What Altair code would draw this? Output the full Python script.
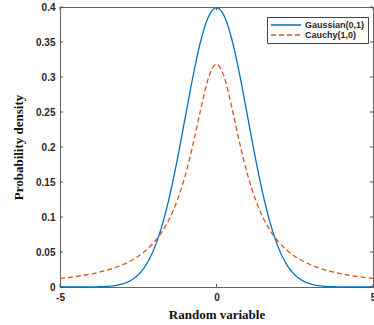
import altair as alt
import pandas as pd

x_vals = [-5.0, -4.75, -4.5, -4.25, -4.0, -3.75, -3.5, -3.25, -3.0, -2.75, -2.5, -2.25, -2.0,
          -1.75, -1.5, -1.25, -1.0, -0.75, -0.5, -0.25, 0.0, 0.25, 0.5, 0.75, 1.0, 1.25, 1.5,
          1.75, 2.0, 2.25, 2.5, 2.75, 3.0, 3.25, 3.5, 3.75, 4.0, 4.25, 4.5, 4.75, 5.0]

gaussian = [0.0, 0.0, 0.0, 0.0, 0.0001, 0.0004, 0.0009, 0.0020, 0.0044, 0.0091, 0.0175, 0.0317,
            0.0540, 0.0863, 0.1295, 0.1826, 0.2420, 0.3011, 0.3521, 0.3867, 0.3989, 0.3867,
            0.3521, 0.3011, 0.2420, 0.1826, 0.1295, 0.0863, 0.0540, 0.0317, 0.0175, 0.0091,
            0.0044, 0.0020, 0.0009, 0.0004, 0.0001, 0.0, 0.0, 0.0, 0.0]

cauchy = [0.0122, 0.0135, 0.0150, 0.0167, 0.0187, 0.0211, 0.0240, 0.0275, 0.0318, 0.0372,
          0.0439, 0.0525, 0.0637, 0.0784, 0.0979, 0.1242, 0.1592, 0.2037, 0.2546, 0.2996,
          0.3183, 0.2996, 0.2546, 0.2037, 0.1592, 0.1242, 0.0979, 0.0784, 0.0637, 0.0525,
          0.0439, 0.0372, 0.0318, 0.0275, 0.0240, 0.0211, 0.0187, 0.0167, 0.0150, 0.0135,
          0.0122]

series_names = ["Gaussian(0,1)", "Cauchy(1,0)"]
x_ticks = [-5, 0, 5]
y_ticks = [0, 0.05, 0.1, 0.15, 0.2, 0.25, 0.3, 0.35, 0.4]

rows = []
for xv, g in zip(x_vals, gaussian):
    rows.append({"x": xv, "y": g, "series": series_names[0]})
for xv, c in zip(x_vals, cauchy):
    rows.append({"x": xv, "y": c, "series": series_names[1]})
df = pd.DataFrame(rows)

W, H = 313, 280
xs = alt.Scale(domain=[-5, 5], nice=False)
ys = alt.Scale(domain=[0, 0.4], nice=False)

x_axis = alt.Axis(values=x_ticks, ticks=False, labelPadding=5, grid=False,
                  titlePadding=6, labelFlush=False, labelOverlap=False,
                  labelExpr="toString(datum.value)", title="Random variable")
y_axis = alt.Axis(values=y_ticks, ticks=False, labelPadding=5, grid=False,
                  titlePadding=10, labelFlush=False, labelOverlap=False,
                  labelExpr="toString(datum.value)", title="Probability density")

lines = alt.Chart(df).mark_line(strokeWidth=1.3, interpolate="monotone").encode(
    x=alt.X("x:Q", scale=xs, axis=x_axis, title="Random variable"),
    y=alt.Y("y:Q", scale=ys, axis=y_axis, title="Probability density"),
    color=alt.Color("series:N", scale=alt.Scale(domain=series_names, range=["#0072BD", "#D95319"]),
                    title=None,
                    legend=alt.Legend(orient="none", legendX=207, legendY=10,
                                      strokeColor="#444", fillColor="white", padding=3,
                                      symbolType="stroke", symbolSize=900, symbolStrokeWidth=1.3,
                                      clipHeight=10, labelFont="Liberation Sans",
                                      labelFontWeight="bold", labelFontSize=9,
                                      labelColor="#262626", labelOffset=3, rowPadding=0)),
    strokeDash=alt.StrokeDash("series:N", scale=alt.Scale(domain=series_names, range=[[1, 0], [5, 3]]),
                              title=None, legend=None),
)

ytick_df = pd.DataFrame({"v": y_ticks})
xtick_df = pd.DataFrame({"v": x_ticks})

yticks_left = alt.Chart(ytick_df).mark_rule(color="#555", strokeWidth=1).encode(
    y=alt.Y("v:Q", scale=ys, axis=y_axis, title="Probability density"),
    x=alt.value(0), x2=alt.value(3))
yticks_right = alt.Chart(ytick_df).mark_rule(color="#555", strokeWidth=1).encode(
    y=alt.Y("v:Q", scale=ys, axis=y_axis, title="Probability density"),
    x=alt.value(W - 3), x2=alt.value(W))
xticks_bottom = alt.Chart(xtick_df).mark_rule(color="#555", strokeWidth=1).encode(
    x=alt.X("v:Q", scale=xs, axis=x_axis, title="Random variable"),
    y=alt.value(H), y2=alt.value(H - 3))
xticks_top = alt.Chart(xtick_df).mark_rule(color="#555", strokeWidth=1).encode(
    x=alt.X("v:Q", scale=xs, axis=x_axis, title="Random variable"),
    y=alt.value(0), y2=alt.value(3))

chart = alt.layer(lines, yticks_left, yticks_right, xticks_bottom, xticks_top).properties(
    width=W, height=H,
    autosize=alt.AutoSizeParams(type="none"),
    padding={"left": 60, "top": 7, "right": 1, "bottom": 38},
    background="white",
).configure_view(stroke="#666", strokeWidth=1).configure_axis(
    labelFont="Liberation Sans", labelFontWeight="bold", labelFontSize=10, labelColor="#262626",
    titleFont="Liberation Serif", titleFontWeight="bold", titleFontSize=13, titleColor="#111",
    domainColor="#666", domainWidth=1,
)

chart.save("out.html", embed_options={"renderer": "svg", "actions": False})
